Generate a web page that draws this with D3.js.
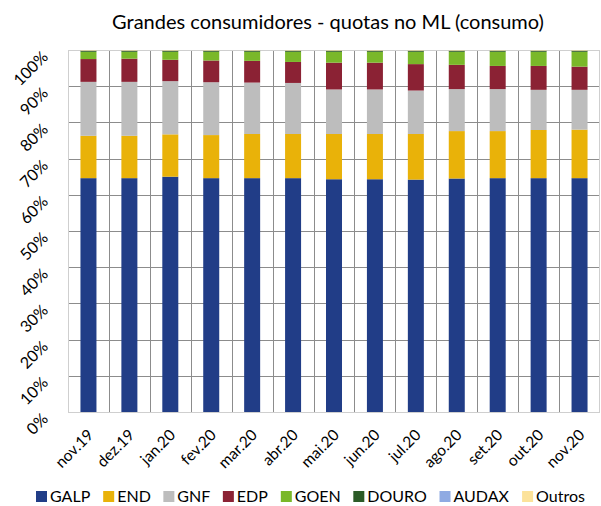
<!DOCTYPE html>
<html>
<head>
<meta charset="utf-8">
<script src="https://cdn.jsdelivr.net/npm/d3@7"></script>
<style>
body { margin: 0; background: #fff; }
text { font-family: Lato, "Open Sans", sans-serif; fill: #000; }
</style>
</head>
<body>
<div id="chart"></div>
<script>
var width = 601;
var height = 506;

var months = ["nov.19", "dez.19", "jan.20", "fev.20", "mar.20", "abr.20", "mai.20",
              "jun.20", "jul.20", "ago.20", "set.20", "out.20", "nov.20"];

var GALP   = [64.6, 64.6, 65.0, 64.6, 64.6, 64.6, 64.3, 64.3, 64.2, 64.5, 64.6, 64.6, 64.6];
var END    = [11.7, 11.7, 11.7, 11.9, 12.2, 12.2, 12.5, 12.5, 12.6, 13.1, 13.0, 13.3, 13.4];
var GNF    = [14.9, 14.9, 14.7, 14.6, 14.2, 14.1, 12.3, 12.3, 12.0, 11.6, 11.6, 11.1, 11.0];
var EDP    = [6.3, 6.4, 5.9, 6.0, 6.0, 5.8, 7.4, 7.4, 7.3, 6.7, 6.4, 6.6, 6.4];
var GOEN   = [2.0, 1.9, 2.2, 2.4, 2.5, 2.8, 3.0, 3.0, 3.4, 3.6, 3.9, 3.9, 4.1];
var DOURO  = [0.3, 0.3, 0.3, 0.3, 0.3, 0.3, 0.3, 0.3, 0.3, 0.3, 0.3, 0.3, 0.3];
var AUDAX  = [0.05, 0.05, 0.05, 0.05, 0.05, 0.05, 0.05, 0.05, 0.05, 0.05, 0.05, 0.05, 0.05];
var Outros = [0.15, 0.15, 0.15, 0.15, 0.15, 0.15, 0.15, 0.15, 0.15, 0.15, 0.15, 0.15, 0.15];

var seriesNames = ["GALP", "END", "GNF", "EDP", "GOEN", "DOURO", "AUDAX", "Outros"];
var seriesValues = [GALP, END, GNF, EDP, GOEN, DOURO, AUDAX, Outros];
var colors = ["#213D87", "#E9B209", "#BDBDBD", "#8B2234", "#7AB829", "#2C5B27", "#8FAAE2", "#FCE29A"];
var yTicks = [0, 10, 20, 30, 40, 50, 60, 70, 80, 90, 100];

var rows = months.map(function(m, i) {
    var r = { month: m };
    seriesNames.forEach(function(s, j) { r[s] = seriesValues[j][i]; });
    return r;
});

var stacked = d3.stack().keys(seriesNames)(rows);

var margin = { left: 68, right: 1, top: 50, bottom: 94 };

var svg = d3.select("#chart")
            .append("svg")
            .attr("width", width)
            .attr("height", height);

var x = d3.scaleBand()
    .domain(months)
    .range([margin.left, width - margin.right])
    .paddingInner(0)
    .paddingOuter(0);

var y = d3.scaleLinear()
    .domain([0, 100])
    .range([height - margin.bottom, margin.top]);

// title
svg.append("text")
    .attr("x", 328)
    .attr("y", 29)
    .attr("text-anchor", "middle")
    .style("font-size", "20px")
    .text("Grandes consumidores - quotas no ML (consumo)");

// horizontal grid
svg.append("g")
    .selectAll("line")
    .data(yTicks)
    .enter()
    .append("line")
    .attr("x1", margin.left)
    .attr("x2", width - margin.right)
    .attr("y1", function(d) { return Math.round(y(d)) + 0.5; })
    .attr("y2", function(d) { return Math.round(y(d)) + 0.5; })
    .attr("stroke", function(d) { return d == 100 ? "#d0d0d0" : "#8c8c8c"; });

// vertical grid at category boundaries
svg.append("g")
    .selectAll("line")
    .data(months.slice(1))
    .enter()
    .append("line")
    .attr("x1", function(d) { return Math.round(x(d)) + 0.5; })
    .attr("x2", function(d) { return Math.round(x(d)) + 0.5; })
    .attr("y1", y(100))
    .attr("y2", y(0))
    .attr("stroke", "#8c8c8c");

// frame
svg.append("rect")
    .attr("x", margin.left + 0.5)
    .attr("y", y(100) + 0.5)
    .attr("width", width - margin.right - margin.left - 1)
    .attr("height", y(0) - y(100))
    .attr("fill", "none")
    .attr("stroke", "#cfcfcf");

// bars
var barW = 16;
svg.append("g")
    .selectAll("g")
    .data(stacked)
    .enter()
    .append("g")
    .attr("fill", function(d, i) { return colors[i]; })
    .selectAll("rect")
    .data(function(d) { return d; })
    .enter()
    .append("rect")
    .attr("x", function(d) { return x(d.data.month) + x.bandwidth() / 2 - barW / 2; })
    .attr("y", function(d) { return y(d[1]); })
    .attr("width", barW)
    .attr("height", function(d) { return y(d[0]) - y(d[1]); });

// y labels
svg.append("g")
    .selectAll("text")
    .data(yTicks)
    .enter()
    .append("text")
    .attr("transform", function(d) { return "translate(49," + (y(d) + 8) + ") rotate(-45)"; })
    .attr("text-anchor", "end")
    .style("font-size", "16px")
    .text(function(d) { return d + "%"; });

// x labels
svg.append("g")
    .selectAll("text")
    .data(months)
    .enter()
    .append("text")
    .attr("transform", function(d) {
        return "translate(" + (x(d) + x.bandwidth() / 2 + 6) + "," + (y(0) + 24) + ") rotate(-45)";
    })
    .attr("text-anchor", "end")
    .style("font-size", "15.5px")
    .text(function(d) { return d; });

// legend, laid out left to right from measured text widths
var legend = svg.append("g");
var items = legend.selectAll("g")
    .data(seriesNames)
    .enter()
    .append("g");

items.append("rect")
    .attr("y", 2)
    .attr("width", 11)
    .attr("height", 11)
    .attr("fill", function(d, i) { return colors[i]; });

items.append("text")
    .attr("x", 14)
    .attr("y", 13)
    .style("font-size", "16px")
    .text(function(d) { return d; });

var widths = [];
items.each(function() { widths.push(this.getBBox().width); });
var totalW = d3.sum(widths);
var gap = (585 - 36 - totalW) / (seriesNames.length - 1);
var pos = 36;
items.attr("transform", function(d, i) {
    var t = "translate(" + pos + ",489)";
    pos += widths[i] + gap;
    return t;
});
</script>
</body>
</html>
